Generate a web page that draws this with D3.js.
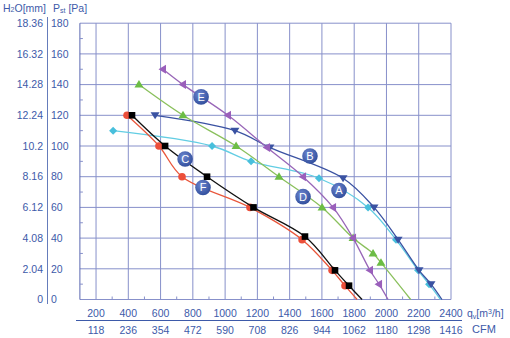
<!DOCTYPE html>
<html>
<head>
<meta charset="utf-8">
<script src="https://cdn.jsdelivr.net/npm/d3@7"></script>
<style>
  body { margin: 0; background: #fff; }
  svg { display: block; font-family: "Liberation Sans", Arial, sans-serif; }
  .lbl { fill: #3d5aa9; font-size: 10.5px; }
</style>
</head>
<body>
<svg id="chart" width="510" height="338"></svg>
<script>
// axis ticks
var flowTicks = [200, 400, 600, 800, 1000, 1200, 1400, 1600, 1800, 2000, 2200, 2400]
var cfmTicks = [118, 236, 354, 472, 590, 708, 826, 944, 1062, 1180, 1298, 1416]
var paTicks = [0, 20, 40, 60, 80, 100, 120, 140, 160, 180]
var mmTicks = ['0', '2.04', '4.08', '6.12', '8.16', '10.2', '12.24', '14.28', '16.32', '18.36']

// curves: flow [m3/h], static pressure [Pa], end = flow at 0 Pa
var aFlow = [306, 919, 1161, 1582, 1886, 2059, 2196, 2264]
var aPa = [110, 100, 90, 79, 60, 39, 19, 10]
var aEnd = 2335
var bFlow = [566, 1061, 1278, 1731, 1923, 2072, 2202, 2276]
var bPa = [120, 110, 99, 79, 60, 39, 19, 10]
var bEnd = 2344
var cFlow = [423, 628, 888, 1176, 1495, 1681, 1768]
var cPa = [120, 100, 80, 60, 41, 19, 9]
var cEnd = 1849
var dFlow = [466, 739, 1068, 1334, 1601, 1793, 1917, 1966]
var dPa = [140, 120, 100, 80, 60, 40, 30, 24]
var dEnd = 2150
var eFlow = [615, 739, 1018, 1260, 1483, 1669, 1793, 1898, 1954]
var ePa = [150, 140, 120, 99, 80, 60, 40, 19, 10]
var eEnd = 2010
var fFlow = [392, 590, 733, 1154, 1477, 1663, 1743]
var fPa = [120, 100, 80, 60, 39, 19, 9]
var fEnd = 1818

// curve tags (flow, Pa)
var tagNames = ['E', 'C', 'F', 'B', 'D', 'A']
var tagFlow = [851, 752, 863, 1526, 1483, 1706]
var tagPa = [132, 91.5, 73, 93.5, 67, 71]

var series = [
  {flow: aFlow, pa: aPa, end: aEnd, color: '#62cde3', mark: '#48bfdc', sym: 'diamond'},
  {flow: bFlow, pa: bPa, end: bEnd, color: '#3a52a2', mark: '#3a52a2', sym: 'down'},
  {flow: dFlow, pa: dPa, end: dEnd, color: '#8ac05c', mark: '#6cbd45', sym: 'up'},
  {flow: eFlow, pa: ePa, end: eEnd, color: '#9866b8', mark: '#9a5fbb', sym: 'left'},
  {flow: fFlow, pa: fPa, end: fEnd, color: '#e9563b', mark: '#ec4f3a', sym: 'circle'},
  {flow: cFlow, pa: cPa, end: cEnd, color: '#111', mark: '#000', sym: 'square'}
]

var svg = d3.select('#chart')
  , gridColor = '#8790ca'
  , x = d3.scaleLinear().domain([100, 2400]).range([79.9, 451])
  , y = d3.scaleLinear().domain([0, 180]).range([299.5, 23.2])

// grid
var grid = svg.append('g').attr('stroke', gridColor).attr('stroke-width', 1)
grid.selectAll('line.h').data(paTicks).enter().append('line')
  .attr('x1', x(100)).attr('x2', x(2400))
  .attr('y1', function(d) { return y(d) }).attr('y2', function(d) { return y(d) })
grid.selectAll('line.v').data(flowTicks).enter().append('line')
  .attr('x1', function(d) { return x(d) }).attr('x2', function(d) { return x(d) })
  .attr('y1', y(0)).attr('y2', y(180))
grid.append('line').attr('x1', x(100)).attr('x2', x(100)).attr('y1', y(0)).attr('y2', y(180))
  .attr('stroke', '#5a66b0')

// minor ticks
grid.selectAll('line.mx').data(d3.range(300, 2400, 200)).enter().append('line')
  .attr('x1', function(d) { return x(d) }).attr('x2', function(d) { return x(d) })
  .attr('y1', y(0)).attr('y2', y(0) - 3)
grid.selectAll('line.my').data(d3.range(10, 180, 20)).enter().append('line')
  .attr('x1', x(100)).attr('x2', x(100) + 3)
  .attr('y1', function(d) { return y(d) }).attr('y2', function(d) { return y(d) })

// left labels
svg.append('line').attr('x1', 47.5).attr('x2', 47.5).attr('y1', 17).attr('y2', 304)
  .attr('stroke', '#3d5aa9').attr('stroke-width', 0.8)
svg.selectAll('text.pa').data(paTicks).enter().append('text').attr('class', 'lbl')
  .attr('x', 51).attr('y', function(d) { return y(d) }).attr('dy', '0.36em')
  .text(function(d) { return d })
svg.selectAll('text.mm').data(mmTicks).enter().append('text').attr('class', 'lbl')
  .attr('x', 43).attr('y', function(d, i) { return y(paTicks[i]) }).attr('dy', '0.36em')
  .attr('text-anchor', 'end')
  .text(function(d) { return d })

var h = svg.append('text').attr('class', 'lbl').attr('x', 3).attr('y', 12)
h.append('tspan').text('H')
h.append('tspan').attr('font-size', '7px').text('2')
h.append('tspan').text('O[mm]')
var p = svg.append('text').attr('class', 'lbl').attr('x', 53).attr('y', 12)
p.append('tspan').text('P')
p.append('tspan').attr('font-size', '7px').attr('dy', 1).text('st')
p.append('tspan').attr('dy', -1).text(' [Pa]')

// bottom labels
svg.selectAll('text.fl').data(flowTicks).enter().append('text').attr('class', 'lbl')
  .attr('x', function(d) { return x(d) }).attr('y', 313).attr('dy', '0.36em')
  .attr('text-anchor', 'middle')
  .text(function(d) { return d })
svg.append('line').attr('x1', 76).attr('x2', 462).attr('y1', 320.5).attr('y2', 320.5)
  .attr('stroke', '#3d5aa9').attr('stroke-width', 1)
svg.selectAll('text.cfm').data(cfmTicks).enter().append('text').attr('class', 'lbl')
  .attr('x', function(d, i) { return x(flowTicks[i]) }).attr('y', 330).attr('dy', '0.36em')
  .attr('text-anchor', 'middle')
  .text(function(d) { return d })
var q = svg.append('text').attr('class', 'lbl').attr('x', 467).attr('y', 313).attr('dy', '0.36em')
  .attr('font-size', '11px')
q.append('tspan').text('q')
q.append('tspan').attr('font-size', '7px').attr('dy', 2).text('v')
q.append('tspan').attr('dy', -2).text('[m')
q.append('tspan').attr('font-size', '7px').attr('dy', -3).text('3')
q.append('tspan').attr('dy', 3).text('/h]')
svg.append('text').attr('class', 'lbl').attr('x', 472).attr('y', 329).attr('dy', '0.36em')
  .style('font-size', '11px').text('CFM')

// curves
var line = d3.line()
  .x(function(d) { return x(d[0]) })
  .y(function(d) { return y(d[1]) })
  .curve(d3.curveCatmullRom.alpha(0.5))

var symbols = {
  diamond: function(g) { g.append('path').attr('d', 'M0,-4L4,0L0,4L-4,0Z') },
  down: function(g) { g.append('path').attr('d', 'M-4.5,-3L4.5,-3L0,4Z') },
  up: function(g) { g.append('path').attr('d', 'M-4.5,3L4.5,3L0,-4.5Z') },
  left: function(g) { g.append('path').attr('d', 'M3,-4.5L3,4.5L-4.5,0Z') },
  circle: function(g) { g.append('circle').attr('r', 3.8) },
  square: function(g) { g.append('rect').attr('x', -3.3).attr('y', -3.3).attr('width', 6.6).attr('height', 6.6) }
}

series.forEach(function(s) {
  var pts = s.flow.map(function(f, i) { return [f, s.pa[i]] })
  svg.append('path').datum(pts.concat([[s.end, 0]]))
    .attr('d', line).attr('fill', 'none')
    .attr('stroke', s.color).attr('stroke-width', 1.3)
  svg.append('g').selectAll('g').data(pts).enter().append('g')
    .attr('transform', function(d) { return 'translate(' + x(d[0]) + ',' + y(d[1]) + ')' })
    .attr('fill', s.mark)
    .each(function() { symbols[s.sym](d3.select(this)) })
})

// tags
var grad = svg.append('defs').append('radialGradient').attr('id', 'tagGrad')
  .attr('cx', '40%').attr('cy', '35%').attr('r', '65%')
grad.append('stop').attr('offset', '0%').attr('stop-color', '#6d86cf')
grad.append('stop').attr('offset', '100%').attr('stop-color', '#33509e')

var tags = svg.append('g').selectAll('g').data(tagNames).enter().append('g')
  .attr('transform', function(d, i) { return 'translate(' + x(tagFlow[i]) + ',' + y(tagPa[i]) + ')' })
tags.append('circle').attr('r', 7.8).attr('fill', 'url(#tagGrad)')
tags.append('text').attr('text-anchor', 'middle').attr('dy', '0.36em')
  .attr('fill', '#fff').attr('font-size', '11px')
  .text(function(d) { return d })
</script>
</body>
</html>
